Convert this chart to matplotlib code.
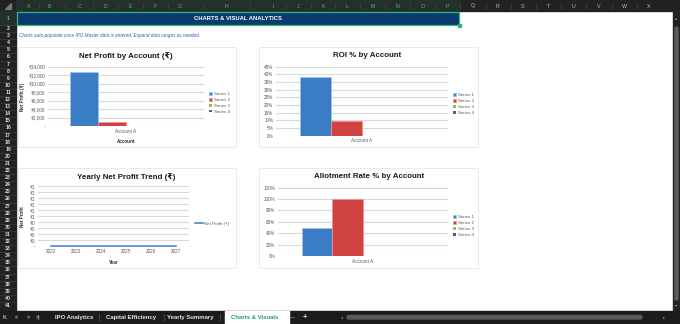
import numpy as np
import matplotlib
matplotlib.use("Agg")
import matplotlib.pyplot as plt
from matplotlib.patches import Rectangle, FancyBboxPatch, Polygon

plt.rcParams['font.family'] = ['Liberation Sans', 'DejaVu Sans']

# Chart data
accounts = ["Account A"]
series_names = ["Series 1", "Series 2", "Series 3", "Series 4"]
series_colors = ["#3b7dc4", "#d0423f", "#8dc63f", "#6c4a9e"]
series_edges = ["#9cc2ea", "#eb9593", "#b9de88", "#a58cc7"]
net_profit = [12650, 1000, 0, 0]
roi = [0.383, 0.098, 0, 0]
allotment = [0.50, 1.00, 0, 0]
years = [2022, 2023, 2024, 2025, 2026, 2027]
yearly_profit = [0, 0, 0, 0, 0, 0]

# Sheet chrome
col_letters = list("ABCDEFGHIJKLMNOPQRSTUVWX")
col_x = [29, 49, 80, 105, 130, 155, 180, 226, 273, 298, 323, 347,
         373, 397, 423, 447, 473, 498, 523, 548, 573, 599, 624, 649]
tabs = ["IPO Analytics", "Capital Efficiency", "Yearly Summary", "Charts & Visuals"]
tab_x = [74, 131, 190, 255]

W, H = 680, 324
fig = plt.figure(figsize=(6.8, 3.24), dpi=100)
fig.patch.set_facecolor("white")


def rect(x0, y0, x1, y1):
    return [x0 / W, 1 - y1 / H, (x1 - x0) / W, (y1 - y0) / H]


sheet = fig.add_axes([0, 0, 1, 1], zorder=0)
sheet.set_xlim(0, W)
sheet.set_ylim(H, 0)
sheet.axis("off")

dark = "#222222"
# column header
sheet.add_patch(Rectangle((0, 0), W, 11, color=dark))
sheet.add_patch(Rectangle((16, 0), 444, 11, color="#24302a"))
sheet.add_patch(Polygon([[11, 3], [11, 9], [5, 9]], color="#777777"))
for i, (c, x) in enumerate(zip(col_letters, col_x)):
    sel = i < 16
    sheet.text(x, 6, c, ha="center", va="center", fontsize=3.8,
               color="#3fbf80" if sel else "#bdbdbd")
    if i < len(col_x) - 1:
        sx = (x + col_x[i + 1]) / 2
        sheet.plot([sx, sx], [3, 9], color="#4a4a4a", lw=0.4)

# row header
sheet.add_patch(Rectangle((0, 11), 16, 300, color=dark))
sheet.add_patch(Rectangle((0, 11), 16, 14, color="#24302a"))
sheet.text(8, 18, "1", ha="center", va="center", fontsize=3.8, color="#3fbf80",
           fontweight="bold")
for r in range(2, 42):
    top = 25 + (r - 2) * 7.1
    sheet.plot([0, 16], [top, top], color="#444444", lw=0.4)
    sheet.text(8, top + 3.55, str(r), ha="center", va="center",
               fontsize=3.7, color="#e0e0e0", fontweight="bold")

# right scroll strip
sheet.add_patch(Rectangle((673, 11), 7, 300, color=dark))
sheet.add_patch(FancyBboxPatch((675, 27), 3, 273, boxstyle="round,pad=0,rounding_size=1.5",
                               color="#5c5c5c"))
sheet.text(676.5, 18, "▴", ha="center", va="center", fontsize=3, color="#aaaaaa")
sheet.text(676.5, 305, "▾", ha="center", va="center", fontsize=3, color="#aaaaaa")

# bottom tab bar
sheet.add_patch(Rectangle((0, 311), W, 13, color="#1c1c1c"))
for s, x in zip(["K", "<", ">", ">|"], [5, 16, 28, 38]):
    sheet.text(x, 317.5, s, ha="center", va="center", fontsize=3.8,
               color="#bdbdbd", fontweight="bold")
sheet.add_patch(Rectangle((225, 311), 64, 13, color="white"))
for i, (t, x) in enumerate(zip(tabs, tab_x)):
    active = i == len(tabs) - 1
    sheet.text(x, 317.5, t, ha="center", va="center", fontsize=4.3,
               fontweight="bold", color="#1f9e6e" if active else "#e6e6e6")
for sx in [99, 164, 220]:
    sheet.plot([sx, sx], [314, 321], color="#555555", lw=0.5)
sheet.text(293, 317.5, "···", ha="center", va="center", fontsize=4.5,
           color="#dddddd", fontweight="bold")
sheet.text(305, 317.5, "+", ha="center", va="center", fontsize=5.5,
           color="#dddddd", fontweight="bold")
sheet.add_patch(FancyBboxPatch((347, 315.5), 295, 3.5, boxstyle="round,pad=0,rounding_size=1.7",
                               color="#5a5a5a"))
sheet.text(342, 317.5, "◂", ha="center", va="center", fontsize=3, color="#999999")
sheet.text(664, 317.5, "▸", ha="center", va="center", fontsize=3, color="#999999")

# banner
sheet.add_patch(Rectangle((17, 12), 442, 13, facecolor="#0b3a6e",
                          edgecolor="#35b27d", lw=0.9))
sheet.add_patch(Rectangle((458, 24), 3, 3, color="#35b27d"))
sheet.text(238, 18.7, "CHARTS & VISUAL ANALYTICS", ha="center", va="center",
           fontsize=4.2, fontweight="bold", color="white")
sheet.text(19, 36, "Charts auto-populate once IPO Master data is entered. "
           "Expand data ranges as needed.", ha="left", va="center",
           fontsize=3.3, style="italic", color="#2f62a8")

# chart boxes
boxes = [(18, 47, 236, 147), (259, 47, 478, 147),
         (18, 168, 236, 268), (259, 168, 478, 268)]
for x0, y0, x1, y1 in boxes:
    sheet.add_patch(Rectangle((x0, y0), x1 - x0, y1 - y0, facecolor="white",
                              edgecolor="#e2e2e2", lw=0.5))

tick_col = "#595959"
grid_col = "#d9d9d9"


def style(ax):
    for s in ax.spines.values():
        s.set_visible(False)
    ax.set_axisbelow(True)
    ax.yaxis.grid(True, color=grid_col, lw=0.8)
    ax.tick_params(length=0, labelsize=3.3, colors=tick_col, pad=2)
    ax.set_facecolor("none")


def bar_chart(ax, values, legend_xy):
    w = 0.18
    for i, (name, v) in enumerate(zip(series_names, values)):
        ax.bar((i - 1.5) * w, v, w, color=series_colors[i],
               edgecolor=series_edges[i], lw=0.6 if v else 0, label=name)
    ax.set_xlim(-0.5, 0.5)
    ax.set_xticks([0])
    ax.set_xticklabels(accounts)
    style(ax)
    leg = ax.legend(loc="center left", frameon=False, fontsize=3.2,
                    handlelength=0.55, handleheight=0.55, handletextpad=0.5,
                    labelspacing=0.42, borderpad=0, borderaxespad=0,
                    bbox_to_anchor=legend_xy)
    for t in leg.get_texts():
        t.set_color(tick_col)
    return ax


# Chart 1: Net Profit by Account
ax1 = fig.add_axes(rect(48, 66.7, 204, 126), zorder=1)
bar_chart(ax1, net_profit, (1.035, 0.39))
ax1.set_ylim(0, 14000)
ticks = np.arange(0, 14001, 2000)
ax1.set_yticks(ticks)
ax1.set_yticklabels(["-" if t == 0 else f"₹{t:,.0f}" for t in ticks])
ax1.set_ylabel("Net Profit (₹)", fontsize=3.3, fontweight="bold", color="#333333")
ax1.yaxis.set_label_coords(-0.147, 0.5)
ax1.set_xlabel("Account", fontsize=3.3, fontweight="bold", color="#333333")
ax1.xaxis.set_label_coords(0.5, -0.22)
fig.text(126 / W, 1 - 55.7 / H, "Net Profit by Account (₹)", ha="center",
         va="center", fontsize=5.7, fontweight="bold", color="#1a1a1a")

# Chart 2: ROI % by Account
ax2 = fig.add_axes(rect(276, 66.7, 448, 135.7), zorder=1)
bar_chart(ax2, roi, (1.03, 0.46))
ax2.set_ylim(0, 0.45)
ticks = np.arange(0, 0.451, 0.05)
ax2.set_yticks(ticks)
ax2.set_yticklabels([f"{t * 100:.0f}%" for t in ticks])
fig.text(367 / W, 1 - 55.7 / H, "ROI % by Account", ha="center",
         va="center", fontsize=5.7, fontweight="bold", color="#1a1a1a")

# Chart 3: Yearly Net Profit Trend
ax3 = fig.add_axes(rect(38, 186.3, 189, 246.3), zorder=1)
xpos = np.arange(len(years))
ax3.plot(xpos, yearly_profit, color="#3b7dc4", lw=1.1, clip_on=False,
         label="Net Profit (₹)")
ax3.set_xlim(-0.5, len(years) - 0.5)
ax3.set_xticks(xpos)
ax3.set_xticklabels([str(y) for y in years])
ax3.set_ylim(0, 1)
ticks = np.arange(0, 1.001, 0.1)
ax3.set_yticks(ticks)
ax3.set_yticklabels(["-" if t < 1e-9 else f"₹{int(t + 0.5 + 1e-9)}" for t in ticks])
style(ax3)
ax3.set_ylabel("Net Profit", fontsize=3.3, fontweight="bold", color="#333333")
ax3.yaxis.set_label_coords(-0.083, 0.5)
ax3.set_xlabel("Year", fontsize=3.3, fontweight="bold", color="#333333")
ax3.xaxis.set_label_coords(0.5, -0.23)
leg = ax3.legend(loc="center left", frameon=False, fontsize=3.2,
                 handlelength=1.8, handletextpad=0.3, borderpad=0,
                 borderaxespad=0, bbox_to_anchor=(1.04, 0.375))
for t in leg.get_texts():
    t.set_color(tick_col)
fig.text(126 / W, 1 - 176.7 / H, "Yearly Net Profit Trend (₹)", ha="center",
         va="center", fontsize=5.7, fontweight="bold", color="#1a1a1a")

# Chart 4: Allotment Rate % by Account
ax4 = fig.add_axes(rect(278, 187.7, 448, 256), zorder=1)
bar_chart(ax4, allotment, (1.03, 0.44))
ax4.set_ylim(0, 1.2)
ticks = np.arange(0, 1.201, 0.2)
ax4.set_yticks(ticks)
ax4.set_yticklabels([f"{t * 100:.0f}%" for t in ticks])
fig.text(369 / W, 1 - 176.7 / H, "Allotment Rate % by Account", ha="center",
         va="center", fontsize=5.7, fontweight="bold", color="#1a1a1a")

fig.savefig("out.png", dpi=100)
